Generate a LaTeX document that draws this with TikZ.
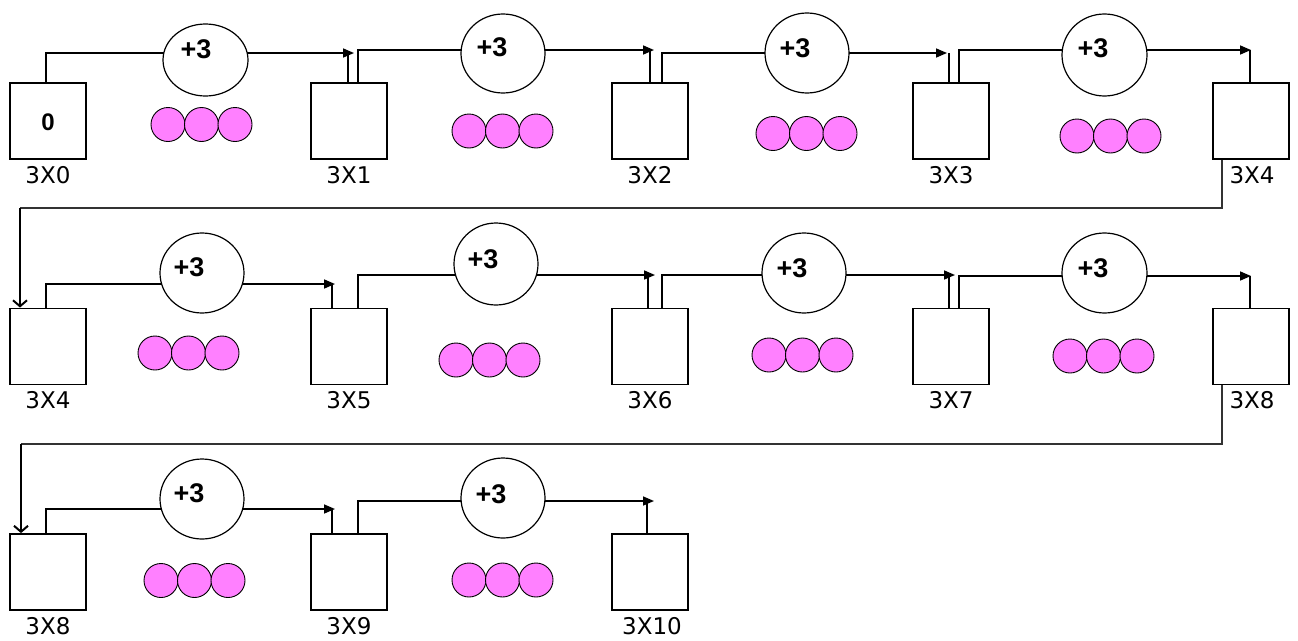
\documentclass[tikz,border=0pt]{standalone}
\usepackage{fontspec}
\setmainfont{DejaVu Sans}
\newfontfamily\opfont{Liberation Sans}
\usetikzlibrary{arrows.meta,shapes.geometric,backgrounds}
\definecolor{dotpink}{RGB}{255,128,255}
\tikzset{
  numbox/.style={draw, line width=1.8pt, minimum width=76pt, minimum height=76pt, inner sep=0pt, fill=white},
  opcirc/.style={ellipse, draw, line width=1.2pt, minimum width=85pt, minimum height=80pt, inner sep=0pt, fill=white},
  optext/.style={font=\opfont\bfseries\fontsize{27}{27}\selectfont, inner sep=0pt},
  zerotext/.style={font=\opfont\bfseries\fontsize{24}{24}\selectfont, inner sep=0pt},
  dot/.style={circle, draw, line width=0.9pt, fill=dotpink, minimum size=34pt, inner sep=0pt},
  lbl/.style={font=\fontsize{23}{23}\selectfont, inner sep=0pt},
  flow/.style={line width=1.6pt},
  flowarrow/.style={line width=1.6pt, -{Triangle[length=11pt,width=9pt]}},
  wrap/.style={line width=1.2pt, draw=black!80},
  wraparrow/.style={line width=2pt, -{Straight Barb[length=6pt,width=14pt]}}
}
\begin{document}
\begin{tikzpicture}[x=1pt,y=-1pt]
\useasboundingbox (0,0) rectangle (1298,640);
% boxes
\node[numbox] (b0) at (48,121) {};
\node[zerotext] (zero) at (48,122) {0};
\node[numbox] (b1) at (349,121) {};
\node[numbox] (b2) at (650,121) {};
\node[numbox] (b3) at (951,121) {};
\node[numbox] (b4) at (1251,121) {};
\node[numbox] (b5) at (48,346.5) {};
\node[numbox] (b6) at (349,346.5) {};
\node[numbox] (b7) at (650,346.5) {};
\node[numbox] (b8) at (951,346.5) {};
\node[numbox] (b9) at (1251,346.5) {};
\node[numbox] (b10) at (48,572) {};
\node[numbox] (b11) at (349,572) {};
\node[numbox] (b12) at (650,572) {};
% labels
\foreach \b/\x/\y/\t in {b0/48/175/3X0, b1/349/175/3X1, b2/650/175/3X2, b3/951/175/3X3, b4/1252/175/3X4,
  b5/48/400/3X4, b6/349/400/3X5, b7/650/400/3X6, b8/951/400/3X7, b9/1252/400/3X8,
  b10/48/626/3X8, b11/349/626/3X9, b12/652/626/3X10}
  \node[lbl] (l\b) at (\x,\y) {\t};
% operation circles
\node[opcirc, minimum height=72pt] (c1) at (205.5,60) {};
\node[opcirc, minimum width=84pt, minimum height=79pt] (c2) at (503,53.5) {};
\node[opcirc, minimum width=84pt] (c3) at (807,53) {};
\node[opcirc, minimum height=82pt] (c4) at (1104.5,55) {};
\node[opcirc, minimum width=84pt] (c5) at (202,273) {};
\node[opcirc, minimum width=84pt, minimum height=82pt] (c6) at (496,264) {};
\node[opcirc, minimum width=84pt] (c7) at (804,273) {};
\node[opcirc] (c8) at (1104.5,273) {};
\node[opcirc, minimum width=84pt] (c9) at (202,499) {};
\node[opcirc, minimum width=84pt] (c10) at (503,498) {};
\foreach \n/\x/\y in {1/196/49, 2/492/47, 3/795/48, 4/1093/48, 5/189/267, 6/483/259, 7/792/268, 8/1093/268, 9/189/493, 10/491/494}
  \node[optext] (p\n) at (\x,\y) {+3};
% pink dots
\foreach \g/\l/\y in {1/151/124.5, 2/452/131, 3/756/133.5, 4/1060/136, 5/138/353, 6/439/360, 7/752/355, 8/1053/356, 9/144/580.5, 10/452/580} {
  \node[dot] (d\g a) at (\l+17,\y) {};
  \node[dot] (d\g b) at (\l+50.5,\y) {};
  \node[dot] (d\g c) at (\l+84,\y) {};
}
% connectors
\begin{pgfonlayer}{background}
\foreach \f/\ox/\tx/\ty/\t/\ix in {b0/46/354/53/b1/348, b1/358/654/50/b2/650, b2/662/947/53/b3/949, b3/959/1251/50/b4/1250,
  b5/46/335/284/b6/332, b6/358/655/275/b7/648, b7/662/955/275/b8/949, b8/959/1251/276/b9/1250,
  b10/46/335/509/b11/332, b11/358/654/501/b12/647} {
  \draw[flowarrow] (\f.north -| \ox,0) |- (\tx,\ty);
  \draw[flow] (\t.north -| \ix,0) -- (\ix,\ty);
}
\coordinate (w1) at (20,208);
\coordinate (w2) at (21,444);
\draw[wrap] (b4.south -| 1222,0) |- (w1);
\draw[wraparrow] (w1) -- (b5.north -| w1);
\draw[wrap] (b9.south -| 1222,0) |- (w2);
\draw[wraparrow] (w2) -- (b10.north -| w2);
\end{pgfonlayer}
\end{tikzpicture}
\end{document}
